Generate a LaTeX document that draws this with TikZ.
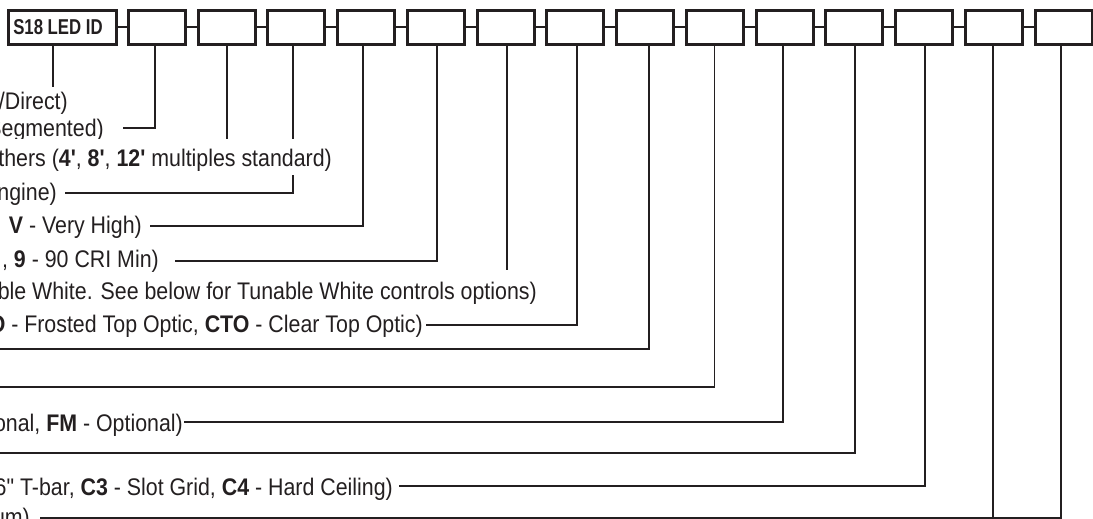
\documentclass[tikz,border=0pt]{standalone}
\usepackage{fontspec}
\newfontfamily\lab{Liberation Sans}[FakeStretch=0.89]
\newfontfamily\boxlab{Liberation Sans}[FakeStretch=0.78]
\definecolor{ink}{HTML}{231F20}
\begin{document}
\begin{tikzpicture}[x=1pt,y=-1pt,
  codebox/.style={draw=ink, line width=3pt, minimum width=57pt, minimum height=34pt, inner sep=0pt},
  link/.style={draw=ink, line width=2.5pt},
  lead/.style={draw=ink, line width=1.3pt},
  desc/.style={anchor=base east, inner sep=0pt, font=\lab\fontsize{24}{28}\selectfont, text=ink}]
\useasboundingbox (0,0) rectangle (1093,519);
\clip (0,0) rectangle (1093,519);
% code boxes
\node[codebox, minimum width=108pt] (b1) at (62.4,27.2) {};
\node[font=\boxlab\bfseries\fontsize{21.5}{24}\selectfont, text=ink, inner sep=0pt] (id) at (58,27.5) {S18 LED ID};
\foreach \i in {2,...,15} \node[codebox] (b\i) at ({156.8+(\i-2)*69.75},27.2) {};
\foreach \i [evaluate=\i as \j using int(\i+1)] in {1,...,14} \draw[link] (b\i.east) -- (b\j.west);
% leader ends
\coordinate (e1) at (53,87);
\coordinate (e2) at (123,128);
\coordinate (e3) at (227,142);
\coordinate (e4) at (65,193);
\coordinate (e5) at (150,226);
\coordinate (e6) at (175,261);
\coordinate (e7) at (507,270);
\coordinate (e8) at (426,325);
\coordinate (e9) at (-2,349);
\coordinate (e10) at (-2,387);
\coordinate (e11) at (184,422);
\coordinate (e12) at (-2,453);
\coordinate (e13) at (399,486);
\coordinate (e14) at (993,525);
\coordinate (e15) at (40,518);
% leaders
\draw[lead] (b1.south -| e1) -- (e1);
\draw[lead] ([xshift=-1.8pt]b2.south) |- (e2);
\draw[lead] (b3.south -| e3) -- (e3);
\draw[lead] ([xshift=-3.3pt]b4.south) |- (e4);
\draw[lead] ([xshift=-3pt]b5.south) |- (e5);
\draw[lead] ([xshift=1.2pt]b6.south) |- (e6);
\draw[lead] (b7.south -| e7) -- (e7);
\draw[lead] ([xshift=1.7pt]b8.south) |- (e8);
\draw[lead] ([xshift=4pt]b9.south) |- (e9);
\draw[lead] (b10.south) |- (e10);
\draw[lead] ([xshift=-1.5pt]b11.south) |- (e11);
\draw[lead] ([xshift=0.7pt]b12.south) |- (e12);
\draw[lead] ([xshift=1pt]b13.south) |- (e13);
\draw[lead] (b14.south -| e14) -- (e14);
\draw[lead] ([xshift=-2.5pt]b15.south) |- (e15);
% descriptions
\node[desc] (t1) at (68,110) {/Direct)};
\node[desc] (t2) at (104,136) {Segmented)};
\node[desc, fill=white, text height=27pt, text depth=9pt] (t3) at (332,166) {thers (\textbf{4'}, \textbf{8'}, \textbf{12'} multiples standard)};
\node[desc] (t4) at (57,200) {ngine)};
\node[desc] (t5) at (142,233) {\textbf{V} - Very High)};
\node[desc] (t6) at (159,267) {, \textbf{9} - 90 CRI Min)};
\node[desc] (t7) at (537,299) {ble White. See below for Tunable White controls options)};
\node[desc] (t8) at (423,332) {\textbf{O} - Frosted Top Optic, \textbf{CTO} - Clear Top Optic)};
\node[desc] (t11) at (183,431) {onal, \textbf{FM} - Optional)};
\node[desc] (t13) at (393,495) {6" T-bar, \textbf{C3} - Slot Grid, \textbf{C4} - Hard Ceiling)};
\node[desc] (t15) at (30,525) {um)};
\end{tikzpicture}
\end{document}
